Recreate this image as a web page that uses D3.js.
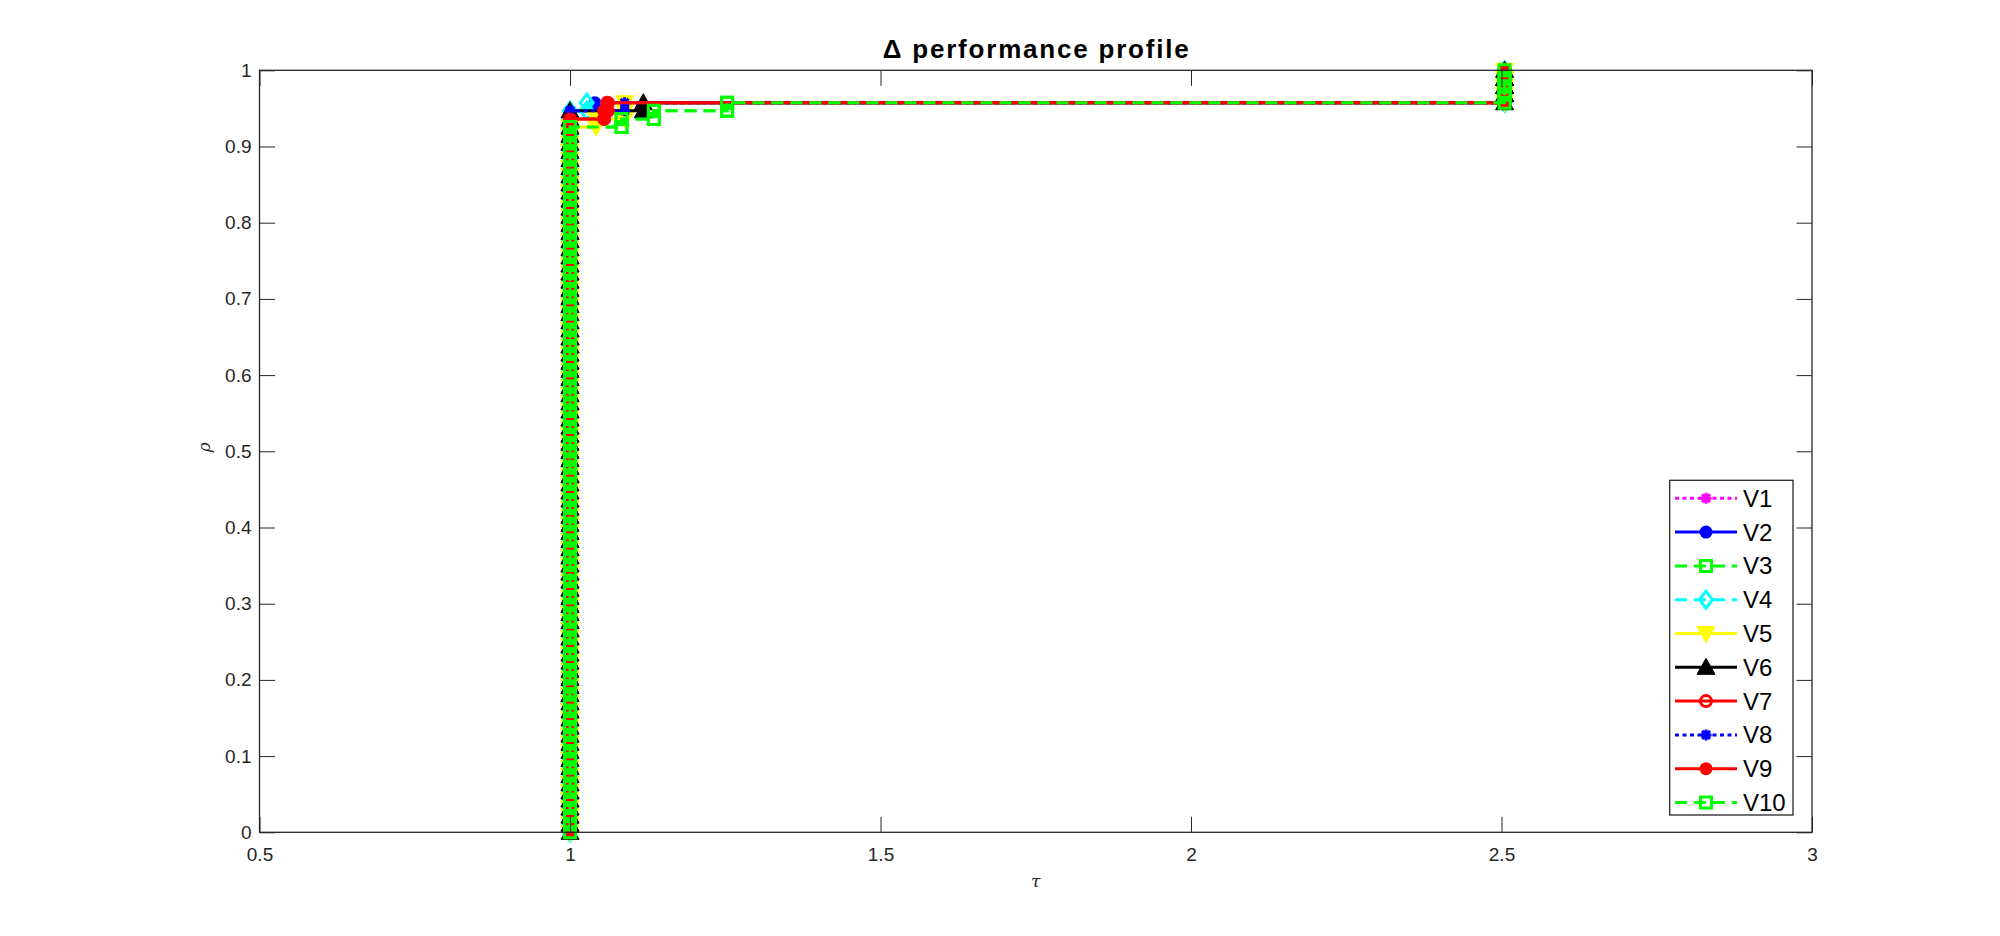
<!DOCTYPE html>
<html><head><meta charset="utf-8">
<script src="https://cdn.jsdelivr.net/npm/d3@7"></script>
<style>body{margin:0;background:#fff} svg{display:block}</style>
</head><body><svg id="c" width="2000" height="936"></svg>
<script>
// ---- data ----
const solverNames = ["V1","V2","V3","V4","V5","V6","V7","V8","V9","V10"];
const solverColors = ["#ff00ff","#0000ff","#00ff00","#00ffff","#ffff00","#000000","#ff0000","#0000ff","#ff0000","#00ff00"];
const solverDashes = ["dot","solid","dash","dash","solid","solid","solid","dot","solid","dash"];
const solverMarkers = ["star","dot","square","diamond","tridown","triup","circle","star","dot","square"];
const nProblems = 94;
const ratioOneCounts = [89, 89, 87, 89, 87, 89, 88, 89, 88, 87];
const otherRatios = [[1.088],[1.04],[1.083,1.135,1.253],[1.027],[1.042,1.088,1.088],[1.118],[1.055,1.06],[1.088],[1.055,1.062],[1.083,1.135,1.253]];
const failureRatio = 2.505;
const failureCounts = [4,4,4,4,4,4,4,4,4,4];
const xTicks = [0.5, 1, 1.5, 2, 2.5, 3];
const yTicks = [0, 0.1, 0.2, 0.3, 0.4, 0.5, 0.6, 0.7, 0.8, 0.9, 1];
const xTickLabels = ["0.5","1","1.5","2","2.5","3"];
const yTickLabels = ["0","0.1","0.2","0.3","0.4","0.5","0.6","0.7","0.8","0.9","1"];
const titleText = "\u0394 performance profile";

// ---- layout ----
const L = 259.5, R = 1812, T = 70.3, B = 832.3;
const svg = d3.select("#c");
const x = d3.scaleLinear().domain([0.5, 3]).range([L, R]);
const y = d3.scaleLinear().domain([0, 1]).range([B, T]);
const axisColor = "#262626";
const tickLen = 15.5;
const font = "'Liberation Sans', Arial, Helvetica, sans-serif";

const dashMap = {solid: null, dot: "4,3.5", dash: "12,7"};

function markerPath(type) {
  switch (type) {
    case "star": { const s = 5.5, k = 4; return `M${-s},0L${s},0M0,${-s}L0,${s}M${-k},${-k}L${k},${k}M${-k},${k}L${k},${-k}`; }
    case "square": return "M-5.5,-5.5H5.5V5.5H-5.5Z";
    case "diamond": return "M0,-8.5L6.5,0L0,8.5L-6.5,0Z";
    case "tridown": return "M-9,-7L9,-7L0,9Z";
    case "triup": return "M-9,7L9,7L0,-9Z";
    default: return null;
  }
}
function drawMarker(g, type, color, cx, cy) {
  if (type === "dot") {
    g.append("circle").attr("cx", cx).attr("cy", cy).attr("r", 6.5).attr("fill", color);
  } else if (type === "circle") {
    g.append("circle").attr("cx", cx).attr("cy", cy).attr("r", 5.5).attr("fill", "none").attr("stroke", color).attr("stroke-width", 3);
  } else {
    const filled = (type === "tridown" || type === "triup");
    g.append("path").attr("transform", `translate(${cx},${cy})`).attr("d", markerPath(type))
      .attr("fill", filled ? color : "none")
      .attr("stroke", color).attr("stroke-width", type === "star" ? 3 : (filled ? 1 : 3));
  }
}

// ---- series ----
const plotG = svg.append("g");
const line = d3.line().x(d => x(d[0])).y(d => y(d[1]));
solverNames.forEach((name, si) => {
  const ratios = [];
  for (let i = 0; i < ratioOneCounts[si]; i++) ratios.push(1);
  otherRatios[si].forEach(r => ratios.push(r));
  for (let i = 0; i < failureCounts[si]; i++) ratios.push(failureRatio);
  const pts = [[ratios[0], 0]];
  ratios.forEach((r, i) => {
    const yi = (i + 1) / nProblems;
    if (i > 0) pts.push([r, i / nProblems]);
    pts.push([r, yi]);
  });
  const g = plotG.append("g");
  g.append("path").datum(pts).attr("d", line).attr("fill", "none")
    .attr("stroke", solverColors[si]).attr("stroke-width", 3)
    .attr("stroke-dasharray", dashMap[solverDashes[si]]);
  pts.forEach(p => drawMarker(g, solverMarkers[si], solverColors[si], x(p[0]), y(p[1])));
});

// ---- axes ----
function styleAxis(g) {
  g.select(".domain").remove();
  g.selectAll("line").attr("stroke", axisColor).attr("stroke-width", 1);
  g.selectAll("text").attr("fill", axisColor).style("font-family", font).style("font-size", "19px");
}
svg.append("g").attr("transform", `translate(0,${B})`)
  .call(d3.axisBottom(x).tickValues(xTicks).tickFormat((d, i) => xTickLabels[i]).tickSizeInner(-tickLen).tickSizeOuter(0).tickPadding(15.5))
  .call(styleAxis);
svg.append("g").attr("transform", `translate(0,${T})`)
  .call(d3.axisTop(x).tickValues(xTicks).tickFormat("").tickSizeInner(-tickLen).tickSizeOuter(0))
  .call(styleAxis);
svg.append("g").attr("transform", `translate(${L},0)`)
  .call(d3.axisLeft(y).tickValues(yTicks).tickFormat((d, i) => yTickLabels[i]).tickSizeInner(-tickLen).tickSizeOuter(0).tickPadding(8))
  .call(styleAxis);
svg.append("g").attr("transform", `translate(${R},0)`)
  .call(d3.axisRight(y).tickValues(yTicks).tickFormat("").tickSizeInner(-tickLen).tickSizeOuter(0))
  .call(styleAxis);
svg.append("rect").attr("x", L).attr("y", T).attr("width", R - L).attr("height", B - T)
  .attr("fill", "none").attr("stroke", axisColor).attr("stroke-width", 1.3);

// ---- title & labels ----
svg.append("text").attr("x", (L + R) / 2).attr("y", 58).attr("text-anchor", "middle")
  .style("font-family", font).style("font-weight", "bold").style("font-size", "26px")
  .attr("fill", "#000").attr("textLength", 306).attr("lengthAdjust", "spacing").text(titleText);
svg.append("text").attr("transform", `translate(210,${(T + B) / 2 - 4}) rotate(-90)`).attr("text-anchor", "middle")
  .style("font-family", "'DejaVu Serif', serif").style("font-style", "italic").style("font-size", "17px")
  .attr("fill", axisColor).text("\u03C1");
svg.append("text").attr("x", (L + R) / 2).attr("y", 887).attr("text-anchor", "middle")
  .style("font-family", "'DejaVu Serif', serif").style("font-style", "italic").style("font-size", "17px")
  .attr("fill", axisColor).text("\u03C4");

// ---- legend ----
const lgX = 1669.7, lgY = 480.3, lgW = 123.3, lgH = 334.7;
const lg = svg.append("g");
lg.append("rect").attr("x", lgX).attr("y", lgY).attr("width", lgW).attr("height", lgH)
  .attr("fill", "#fff").attr("stroke", axisColor).attr("stroke-width", 1.3);
const lgStep = 33.8, lgFirst = 498.3;
solverNames.forEach((name, si) => {
  const cy = lgFirst + si * lgStep;
  lg.append("line").attr("x1", 1675).attr("x2", 1737).attr("y1", cy).attr("y2", cy)
    .attr("stroke", solverColors[si]).attr("stroke-width", 3)
    .attr("stroke-dasharray", dashMap[solverDashes[si]]);
  drawMarker(lg, solverMarkers[si], solverColors[si], 1706, cy);
  lg.append("text").attr("x", 1743).attr("y", cy + 8.5)
    .style("font-family", font).style("font-size", "24px").attr("fill", "#000").text(name);
});
</script></body></html>
